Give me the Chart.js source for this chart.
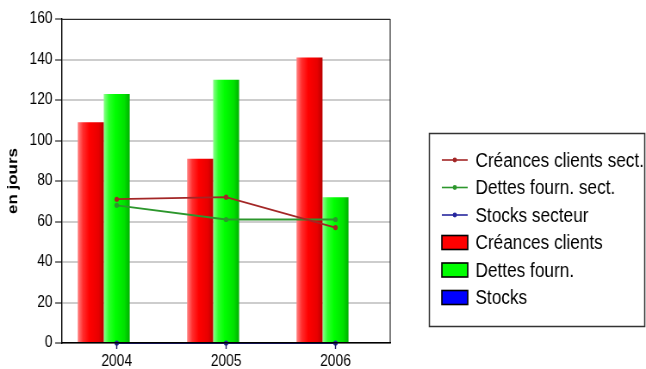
<!DOCTYPE html>
<html>
<head>
<meta charset="utf-8">
<script src="https://cdn.jsdelivr.net/npm/chart.js@4/dist/chart.umd.min.js"></script>
<style>
  html, body { margin: 0; padding: 0; background: #fff; overflow: hidden; }
</style>
</head>
<body>
<!-- the drawing surface is wider than its box, giving the narrow type of the original report -->
<canvas id="c" width="750" height="369" style="display:block;width:646px;height:369px"></canvas>
<script>
// Ratios in days, per year
const years = ['2004', '2005', '2006'];
const creancesClients = [109, 91, 141];
const dettesFourn = [123, 130, 72];
const stocks = [0, 0, 0];
const creancesSecteur = [71, 72, 57];
const dettesSecteur = [68, 61, 61];
const stocksSecteur = [0, 0, 0];
const yMin = 0, yMax = 160, yStep = 20;

const FONT = "'Liberation Sans', Arial, sans-serif";

// Horizontal shading of a bar, light on the left, dark on the right
const RED_SHADE = [[0, '#ff8585'], [0.2, '#ff2e2e'], [0.45, '#ff0000'], [0.8, '#e80000'], [1, '#b80000']];
const GREEN_SHADE = [[0, '#8cff8c'], [0.2, '#2cff2c'], [0.45, '#00ff00'], [0.8, '#00e000'], [1, '#00b000']];
const BLUE_SHADE = [[0, '#6060ff'], [0.45, '#0000ff'], [1, '#0000b0']];

function shaded(stops) {
  return (c) => {
    const el = c.element;
    if (!el || typeof el.x !== 'number' || typeof el.width !== 'number' || !isFinite(el.x)) {
      return stops[2][1];
    }
    const g = c.chart.ctx.createLinearGradient(el.x - el.width / 2, 0, el.x + el.width / 2, 0);
    stops.forEach(([p, col]) => g.addColorStop(p, col));
    return g;
  };
}

function lineSet(label, data, color) {
  return {
    type: 'line', label, data, order: 0,
    borderColor: color, backgroundColor: color,
    borderWidth: 1.8, pointRadius: 2.6, pointBorderWidth: 0,
    pointBackgroundColor: color, tension: 0, fill: false, clip: false,
    legendColor: color
  };
}

function barSet(label, data, stops, color) {
  return {
    type: 'bar', label, data, order: 1,
    backgroundColor: shaded(stops), borderWidth: 0,
    categoryPercentage: 0.713, barPercentage: 1,
    legendColor: color
  };
}

// Frame closing the plot on the top and right sides
const plotFrame = {
  id: 'plotFrame',
  afterDatasetsDraw(chart) {
    const { ctx, chartArea: a } = chart;
    ctx.save();
    ctx.strokeStyle = '#2a2a2a';
    ctx.lineWidth = 1.2;
    ctx.beginPath();
    ctx.moveTo(a.left, a.top + 0.5);
    ctx.lineTo(a.right, a.top + 0.5);
    ctx.lineTo(a.right, a.bottom);
    ctx.stroke();
    ctx.restore();
  }
};

// Boxed legend at the right of the plot
const boxedLegend = {
  id: 'boxedLegend',
  afterDraw(chart, args, o) {
    const ctx = chart.ctx;
    ctx.save();
    ctx.strokeStyle = '#333';
    ctx.lineWidth = 1.5;
    ctx.strokeRect(o.left, o.top, o.width, o.height);
    ctx.font = `${o.fontSize}px ${FONT}`;
    ctx.textBaseline = 'middle';
    ctx.textAlign = 'left';
    chart.data.datasets.forEach((ds, i) => {
      const y = o.firstRow + i * o.rowGap;
      const x0 = o.symbolLeft, x1 = o.symbolLeft + o.symbolWidth;
      if (ds.type === 'line') {
        ctx.strokeStyle = ds.legendColor;
        ctx.lineWidth = 1.6;
        ctx.beginPath();
        ctx.moveTo(x0, y);
        ctx.lineTo(x1, y);
        ctx.stroke();
        ctx.fillStyle = ds.legendColor;
        ctx.beginPath();
        ctx.arc((x0 + x1) / 2, y, 2.4, 0, Math.PI * 2);
        ctx.fill();
      } else {
        const h = o.swatchHeight;
        ctx.fillStyle = ds.legendColor;
        ctx.fillRect(x0, y - h / 2, o.symbolWidth, h);
        ctx.strokeStyle = '#000';
        ctx.lineWidth = 1.6;
        ctx.strokeRect(x0, y - h / 2, o.symbolWidth, h);
      }
      ctx.fillStyle = '#000';
      ctx.fillText(ds.label, o.textLeft, y + 1);
    });
    ctx.restore();
  }
};

const chart = new Chart(document.getElementById('c'), {
  data: {
    labels: years,
    datasets: [
      lineSet('Créances clients sect.', creancesSecteur, '#a32626'),
      lineSet('Dettes fourn. sect.', dettesSecteur, '#2c962c'),
      lineSet('Stocks secteur', stocksSecteur, '#26269e'),
      barSet('Créances clients', creancesClients, RED_SHADE, '#ff0000'),
      barSet('Dettes fourn.', dettesFourn, GREEN_SHADE, '#00ff00'),
      barSet('Stocks', stocks, BLUE_SHADE, '#0000ff')
    ]
  },
  options: {
    responsive: false,
    animation: false,
    devicePixelRatio: 1,
    layout: { padding: { top: 19, right: 297, left: 0, bottom: 0 } },
    plugins: {
      legend: { display: false },
      tooltip: { enabled: false },
      boxedLegend: {
        left: 498.5, top: 133.5, width: 250, height: 193,
        firstRow: 160, rowGap: 27.5,
        symbolLeft: 513, symbolWidth: 30, swatchHeight: 14,
        textLeft: 552, fontSize: 20
      }
    },
    scales: {
      x: {
        grid: { z: 1, offset: false, drawOnChartArea: false, tickLength: 6, tickColor: '#1c1c60', tickWidth: 1.4 },
        border: { z: 1, color: '#000', width: 1.6 },
        ticks: { color: '#000', font: { family: FONT, size: 16 }, padding: 3, maxRotation: 0 },
        afterFit(s) { s.height = 26; }
      },
      y: {
        min: yMin, max: yMax,
        ticks: { stepSize: yStep, color: '#000', font: { family: FONT, size: 16 }, padding: 3 },
        grid: { color: '#cdcdcd', lineWidth: 2, tickLength: 8, tickColor: '#000', tickWidth: 1 },
        border: { color: '#000', width: 1.4 },
        title: {
          display: true, text: 'en jours', color: '#000',
          font: { family: FONT, size: 17, weight: 'bold' },
          padding: { top: 5, bottom: 0 }
        },
        afterFit(s) { s.width = 72; }
      }
    }
  },
  plugins: [plotFrame, boxedLegend]
});
// second pass: bar shading needs the bar geometry from the first layout
chart.update('none');
</script>
</body>
</html>
